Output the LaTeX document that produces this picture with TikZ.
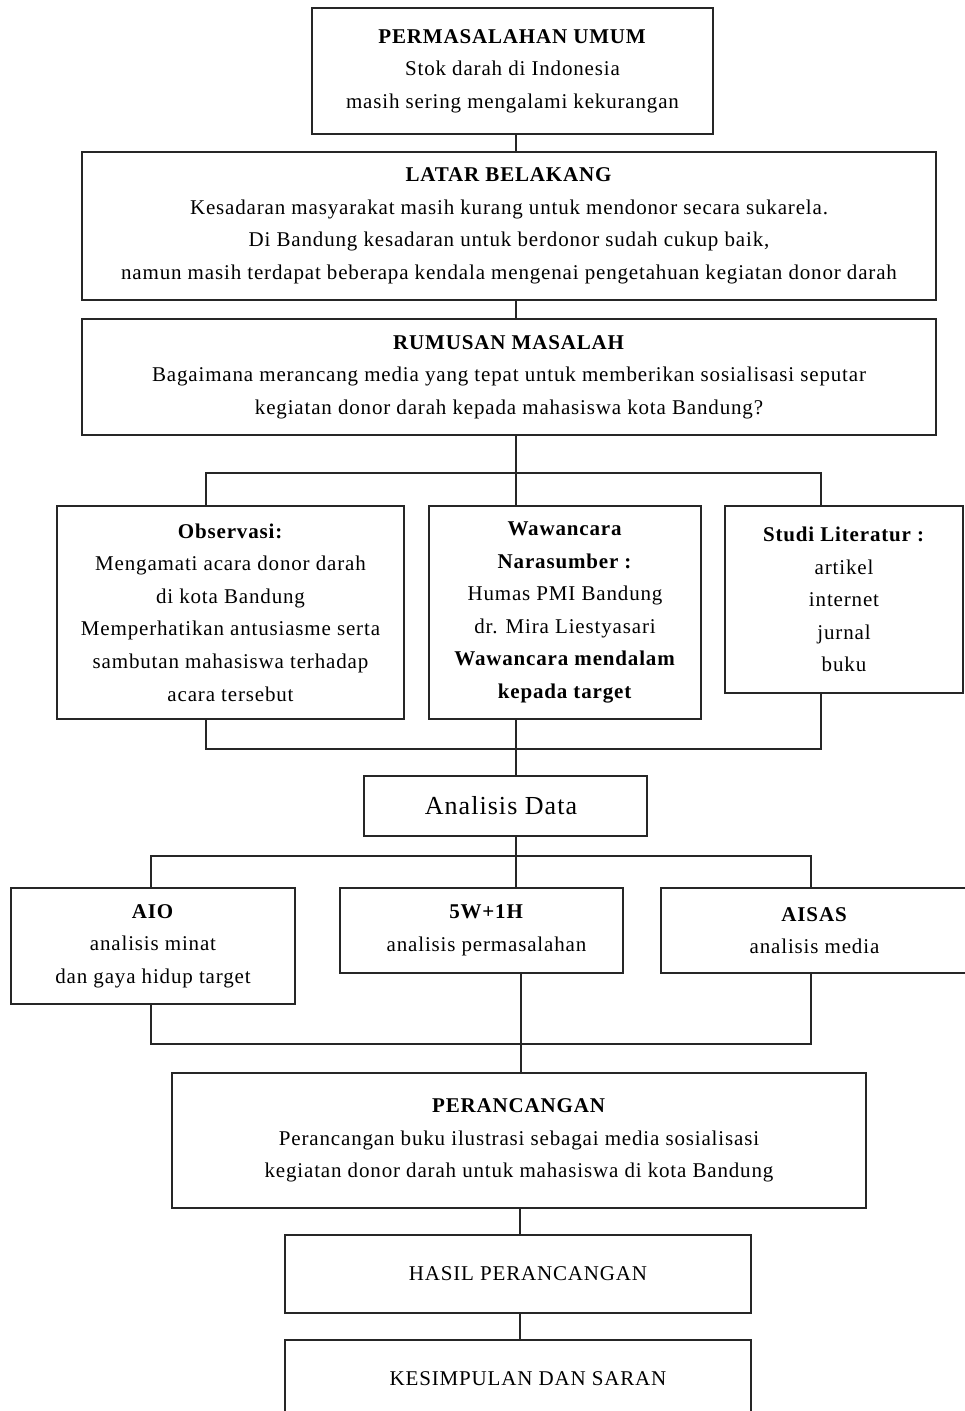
\documentclass[tikz,border=0pt]{standalone}
\usepackage{fontspec}
\setmainfont{Liberation Serif}[LetterSpace=4]
\begin{document}
\begin{tikzpicture}[x=1pt,y=-1pt,
  box/.style={draw=black!85,line width=1.4pt,rectangle,inner sep=0pt,align=center,
    font=\fontsize{21}{32.6}\selectfont},
  conn/.style={draw=black!85,line width=1.4pt}]
\useasboundingbox (0,0) rectangle (965,1411);
\fill[white] (0,0) rectangle (965,1411);

\node[box,minimum width=401pt,minimum height=126pt] (pu) at (512.5,71)
  {\textbf{PERMASALAHAN UMUM}\\Stok darah di Indonesia\\masih sering mengalami kekurangan};
\node[box,minimum width=854pt,minimum height=148pt] (lb) at (509,226)
  {\textbf{LATAR BELAKANG}\\Kesadaran masyarakat masih kurang untuk mendonor secara sukarela.\\Di Bandung kesadaran untuk berdonor sudah cukup baik,\\namun masih terdapat beberapa kendala mengenai pengetahuan kegiatan donor darah};
\node[box,minimum width=854pt,minimum height=116pt] (rm) at (509,377)
  {\textbf{RUMUSAN MASALAH}\\Bagaimana merancang media yang tepat untuk memberikan sosialisasi seputar\\kegiatan donor darah kepada mahasiswa kota Bandung?};

\node[box,minimum width=347pt,minimum height=213pt] (obs) at (230.5,612.5)
  {\textbf{Observasi:}\\Mengamati acara donor darah\\di kota Bandung\\Memperhatikan antusiasme serta\\sambutan mahasiswa terhadap\\acara tersebut};
\node[box,minimum width=272pt,minimum height=213pt] (waw) at (565,612.5)
  {\textbf{Wawancara}\\\textbf{Narasumber :}\\Humas PMI Bandung\\dr. Mira Liestyasari\\\textbf{Wawancara mendalam}\\\textbf{kepada target}};
\node[box,minimum width=238pt,minimum height=187pt] (stu) at (844,599.5)
  {\textbf{Studi Literatur :}\\artikel\\internet\\jurnal\\buku};

\node[box,minimum width=283pt,minimum height=60pt,font=\fontsize{26}{30}\selectfont] (ad) at (505.5,806)
  {Analisis Data\hspace*{9pt}};

\node[box,minimum width=284pt,minimum height=116pt] (aio) at (153,946)
  {\textbf{AIO}\\analisis minat\\dan gaya hidup target};
\node[box,minimum width=283pt,minimum height=85pt] (w5) at (481.5,930.5)
  {\hspace*{10pt}\textbf{5W+1H}\\\hspace*{10pt}analisis permasalahan};
\node[box,minimum width=307pt,minimum height=85pt] (ais) at (814.5,930.5)
  {\textbf{AISAS}\\analisis media};

\node[box,minimum width=694pt,minimum height=135pt] (per) at (519,1140.5)
  {\textbf{PERANCANGAN}\\Perancangan buku ilustrasi sebagai media sosialisasi\\kegiatan donor darah untuk mahasiswa di kota Bandung};
\node[box,minimum width=466pt,minimum height=78pt] (has) at (518,1274)
  {\hspace*{20pt}HASIL PERANCANGAN};
\node[box,minimum width=466pt,minimum height=78pt] (kes) at (518,1379)
  {\hspace*{20pt}KESIMPULAN DAN SARAN};

% coordinates for buses
\coordinate (c1) at (516,473);
\coordinate (t1L) at (206,473);
\coordinate (t1R) at (821,473);
\coordinate (c2) at (516,749);
\coordinate (b1L) at (206,749);
\coordinate (b1R) at (821,749);
\coordinate (c3) at (516,856);
\coordinate (t2L) at (151,856);
\coordinate (t2R) at (811,856);
\coordinate (c4) at (521,1044);
\coordinate (b2L) at (151,1044);
\coordinate (b2R) at (811,1044);
\coordinate (c5) at (520,1200);

\draw[conn] (c1 |- pu.south) -- (c1 |- lb.north);
\draw[conn] (c1 |- lb.south) -- (c1 |- rm.north);
\draw[conn] (c1 |- rm.south) -- (c1);
\draw[conn] (t1L |- obs.north) -- (t1L) -- (t1R) -- (t1R |- stu.north);
\draw[conn] (c1) -- (c1 |- waw.north);
\draw[conn] (b1L |- obs.south) -- (b1L) -- (b1R) -- (b1R |- stu.south);
\draw[conn] (c2 |- waw.south) -- (c2 |- ad.north);
\draw[conn] (c3 |- ad.south) -- (c3 |- w5.north);
\draw[conn] (t2L |- aio.north) -- (t2L) -- (t2R) -- (t2R |- ais.north);
\draw[conn] (b2L |- aio.south) -- (b2L) -- (b2R) -- (b2R |- ais.south);
\draw[conn] (c4 |- w5.south) -- (c4 |- per.north);
\draw[conn] (c5 |- per.south) -- (c5 |- has.north);
\draw[conn] (c5 |- has.south) -- (c5 |- kes.north);
\end{tikzpicture}
\end{document}
